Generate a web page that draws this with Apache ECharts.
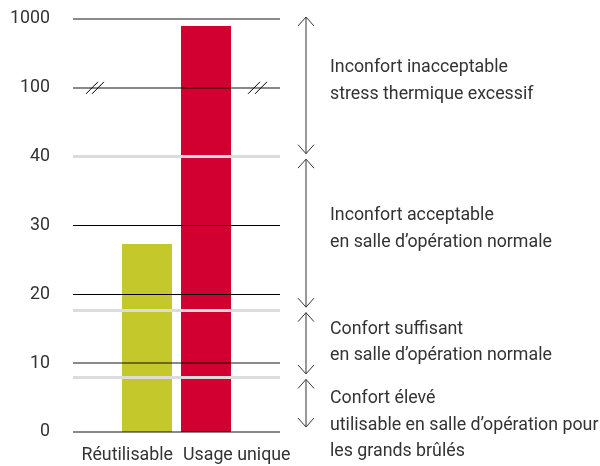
<!DOCTYPE html>
<html>
<head>
<meta charset="utf-8">
<script src="https://cdn.jsdelivr.net/npm/echarts@6/dist/echarts.min.js"></script>
<style>
  html, body { margin: 0; padding: 0; background: #fff; }
  #chart { width: 600px; height: 466px; }
</style>
</head>
<body>
<div id="chart"></div>
<script>
// broken axis: each tick is one step of 10 on the drawing scale
const tickValues = [0, 10, 20, 30, 40, 100, 1000];
const categories = ['Réutilisable', 'Usage unique'];
const values = [27.3, 910];
const barColors = ['#c5c82a', '#d20030'];
const greyLevels = [8, 17.7, 40];
const blackLevels = [20, 30];
const darkLevels = [0, 10, 100, 1000];
const bandLimits = [[1000, 40], [40, 17.7], [17.7, 8], [8, 0]];
const bandTexts = [
  ['Inconfort inacceptable', 'stress thermique excessif'],
  ['Inconfort acceptable', 'en salle d\u2019opération normale'],
  ['Confort suffisant', 'en salle d\u2019opération normale'],
  ['Confort élevé', 'utilisable en salle d\u2019opération pour', 'les grands brûlés']
];
// offset (px) of first text line below the top of each band
const bandTextOffsets = [49, 59, 19, 22];

const FONT = 'Roboto, "Open Sans", sans-serif';
const FONT_SIZE = 17.8;
const FONT_WEIGHT = 'normal';
const TEXT_COLOR = '#333';
const chartDom = document.getElementById('chart');
const chart = echarts.init(chartDom);

function toPos(v) {
  for (let i = 1; i < tickValues.length; i++) {
    if (v <= tickValues[i]) {
      const a = tickValues[i - 1];
      const b = tickValues[i];
      return (i - 1) * 10 + ((v - a) / (b - a)) * 10;
    }
  }
  return (tickValues.length - 1) * 10;
}

const lineData = [];
greyLevels.forEach((v) => {
  lineData.push({ yAxis: toPos(v), lineStyle: { color: '#dcdcdc', width: 3, type: 'solid' } });
});
blackLevels.forEach((v) => {
  lineData.push({ yAxis: toPos(v), lineStyle: { color: '#000', width: 1, type: 'solid' } });
});
darkLevels.forEach((v) => {
  lineData.push({ yAxis: toPos(v), lineStyle: { color: 'rgba(0,0,0,0.62)', width: 1.5, type: 'solid' } });
});

const labelAlign = ['right', 'left'];
const labelShift = [26, -23];

const barSeries = categories.map((name, i) => ({
  name,
  type: 'bar',
  z: 2,
  barWidth: 50,
  barGap: '18%',
  itemStyle: { color: barColors[i] },
  label: {
    show: true,
    position: 'bottom',
    distance: 15,
    align: labelAlign[i],
    offset: [labelShift[i], 0],
    formatter: name,
    fontFamily: FONT,
    fontSize: FONT_SIZE,
    fontWeight: FONT_WEIGHT,
    color: TEXT_COLOR
  },
  data: [toPos(values[i])]
}));

chart.setOption({
  animation: false,
  grid: { left: 73, right: 320, top: 19, bottom: 34, outerBoundsMode: 'none' },
  xAxis: {
    type: 'category',
    data: [''],
    axisLine: { show: false },
    axisTick: { show: false },
    axisLabel: { show: false }
  },
  yAxis: {
    type: 'value',
    min: 0,
    max: 60,
    interval: 10,
    axisLine: { show: false },
    axisTick: { show: false },
    splitLine: { show: false },
    axisLabel: {
      margin: 23,
      fontFamily: FONT,
      fontSize: FONT_SIZE,
      fontWeight: FONT_WEIGHT,
      color: TEXT_COLOR,
      formatter: (v) => String(tickValues[Math.round(v / 10)])
    }
  },
  series: [
    ...barSeries,
    {
      type: 'line',
      z: 5,
      data: [],
      markLine: {
        silent: true,
        symbol: 'none',
        label: { show: false },
        data: lineData
      }
    }
  ]
});

// arrows, text and axis breaks placed from the y scale
const py = (v) => chart.convertToPixel({ yAxisIndex: 0 }, toPos(v));
const graphics = [];
const ax = 306;
const stroke = { stroke: '#333', lineWidth: 1, fill: null };

bandLimits.forEach(([hi, lo], i) => {
  const top = i === 0 ? py(hi) - 2 : py(hi) + 2.5;
  const bottom = i === bandLimits.length - 1 ? py(lo) - 5 : py(lo) - 3;
  graphics.push({ type: 'line', shape: { x1: ax, y1: top, x2: ax, y2: bottom }, style: stroke });
  graphics.push({ type: 'polyline', shape: { points: [[ax - 8, top + 9], [ax, top], [ax + 8, top + 9]] }, style: stroke });
  graphics.push({ type: 'polyline', shape: { points: [[ax - 8, bottom - 9], [ax, bottom], [ax + 8, bottom - 9]] }, style: stroke });
  bandTexts[i].forEach((t, j) => {
    graphics.push({
      type: 'text',
      x: 330,
      y: py(hi) + bandTextOffsets[i] + j * 26.5,
      style: {
        text: t,
        font: FONT_WEIGHT + ' ' + FONT_SIZE + 'px ' + FONT,
        fill: TEXT_COLOR,
        verticalAlign: 'middle'
      }
    });
  });
});

const yb = py(100);
[[86, 92], [248, 255]].forEach(([x1, x2]) => {
  [x1, x2].forEach((x) => {
    graphics.push({ type: 'line', z: 10, shape: { x1: x, y1: yb + 6, x2: x + 12, y2: yb - 6 }, style: { stroke: '#000', lineWidth: 1 } });
  });
});

chart.setOption({ graphic: graphics });

window.addEventListener('resize', () => {
  chart.resize();
});
</script>
</body>
</html>
